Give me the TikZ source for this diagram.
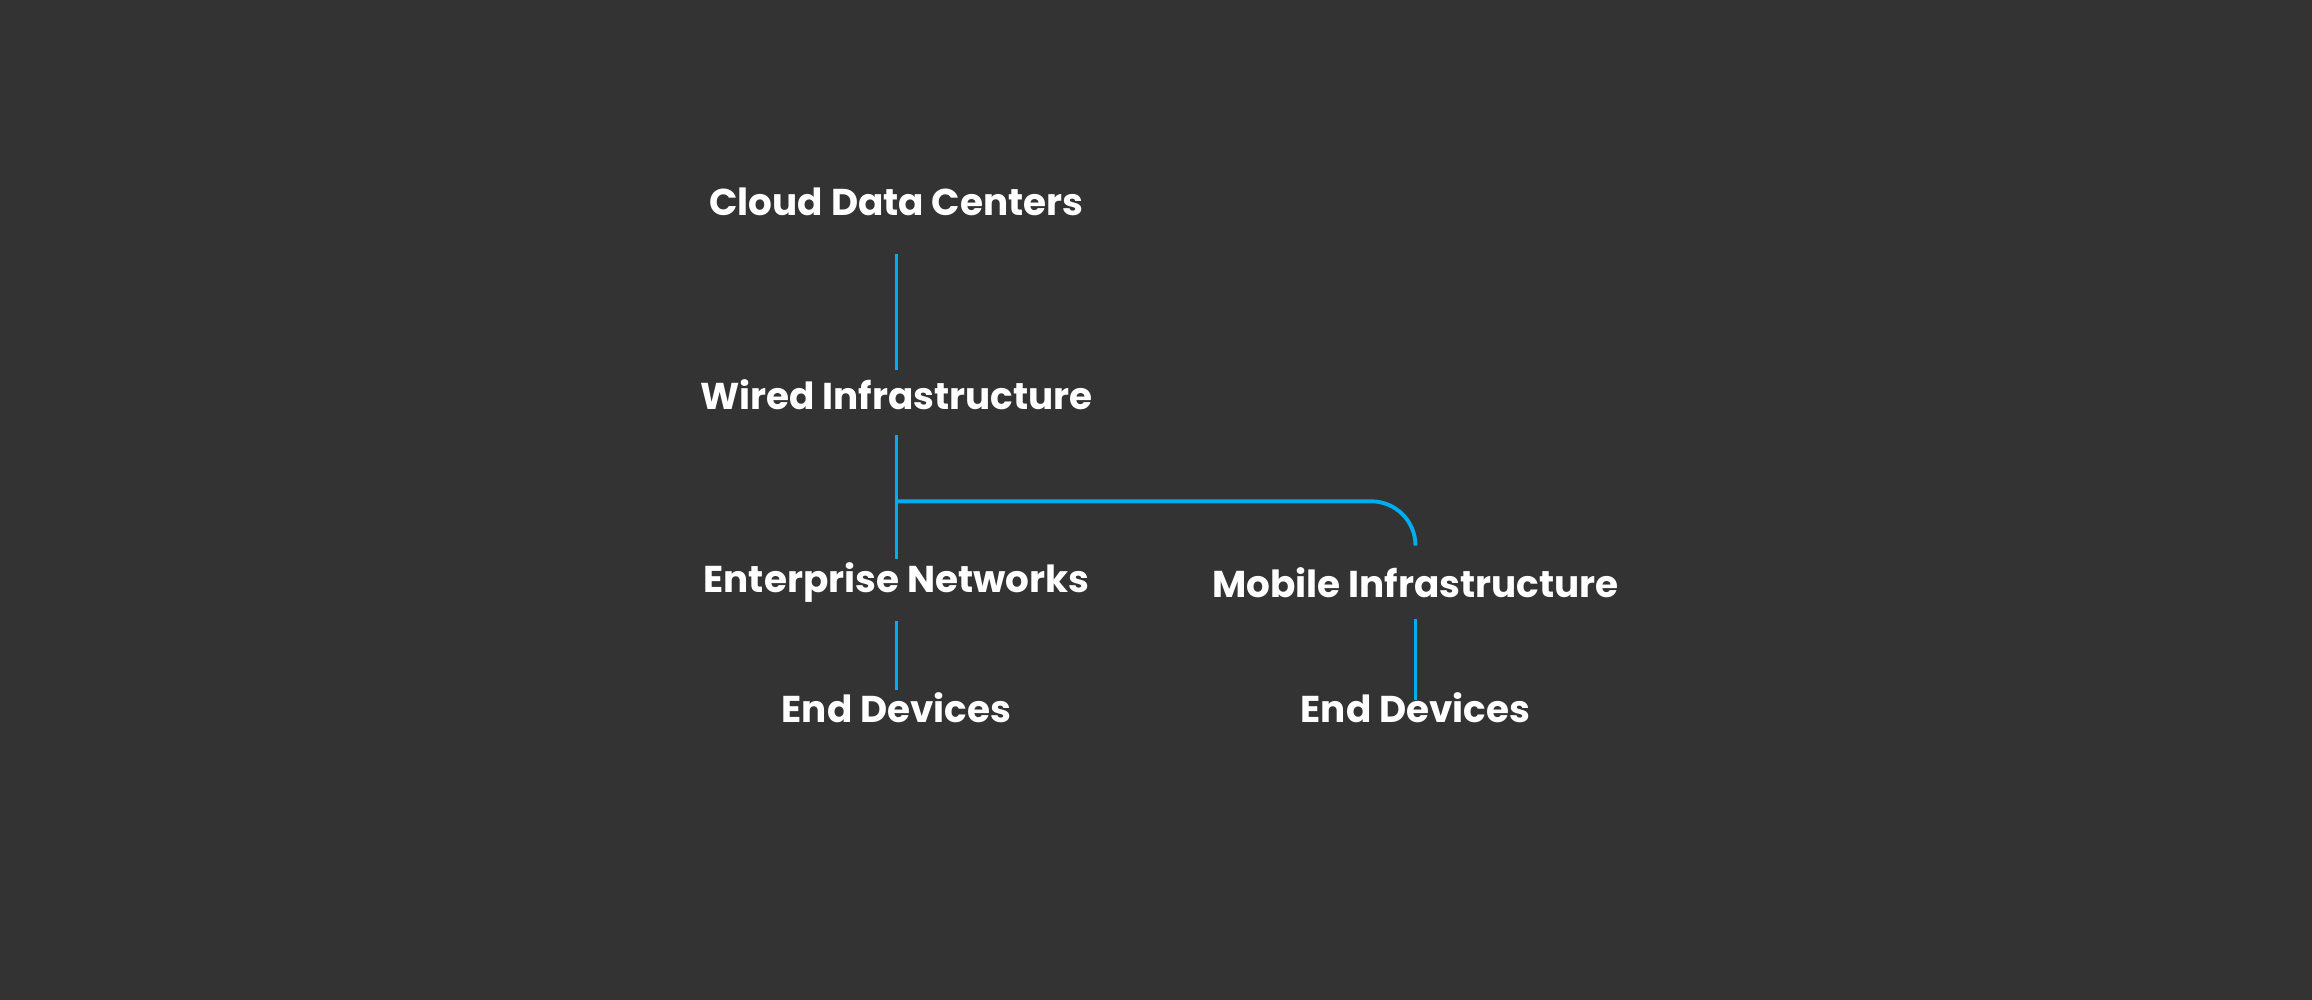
\documentclass[tikz,border=0pt]{standalone}
\usepackage{fontspec}
\setmainfont{Poppins}
\usetikzlibrary{positioning}
\definecolor{bgdark}{RGB}{51,51,51}
\definecolor{linkblue}{RGB}{0,174,239}
\tikzset{
  tier/.style={text=white,font=\fontsize{7.2pt}{8pt}\selectfont\bfseries,inner sep=0pt},
  link/.style={draw=linkblue,line width=0.75pt}
}
\begin{document}
\begin{tikzpicture}[x=0.01cm,y=0.01cm]
    \fill[bgdark] (0,0) rectangle (1568,678);
    \useasboundingbox (0,0) rectangle (1568,678);
    % tiers
    \node[tier] (cloud) at (608,541) {Cloud Data Centers};
    \node[tier] (wired) at (608,410) {Wired Infrastructure};
    \node[tier] (enterprise) at (608,283) {Enterprise Networks};
    \node[tier] (mobile) at (960,283) {Mobile Infrastructure};
    \node[tier] (endA) at (608,198) {End Devices};
    \node[tier] (endB) at (960,198) {End Devices};
    \coordinate (branch) at (608,338);
    % links
    \draw[link] ([yshift=-0.25cm]cloud.south) -- ([yshift=0.06cm]wired.north);
    \draw[link] ([yshift=-0.16cm]wired.south) -- ([yshift=0.02cm]enterprise.north);
    \draw[link,rounded corners=0.3cm] (branch) -| ([yshift=0.15cm]mobile.north);
    \draw[link] ([yshift=-0.12cm]enterprise.south) -- ([yshift=0.01cm]endA.north);
    \draw[link] ([yshift=-0.14cm]mobile.south) -- ([yshift=-0.06cm]endB.north);
\end{tikzpicture}
\end{document}
